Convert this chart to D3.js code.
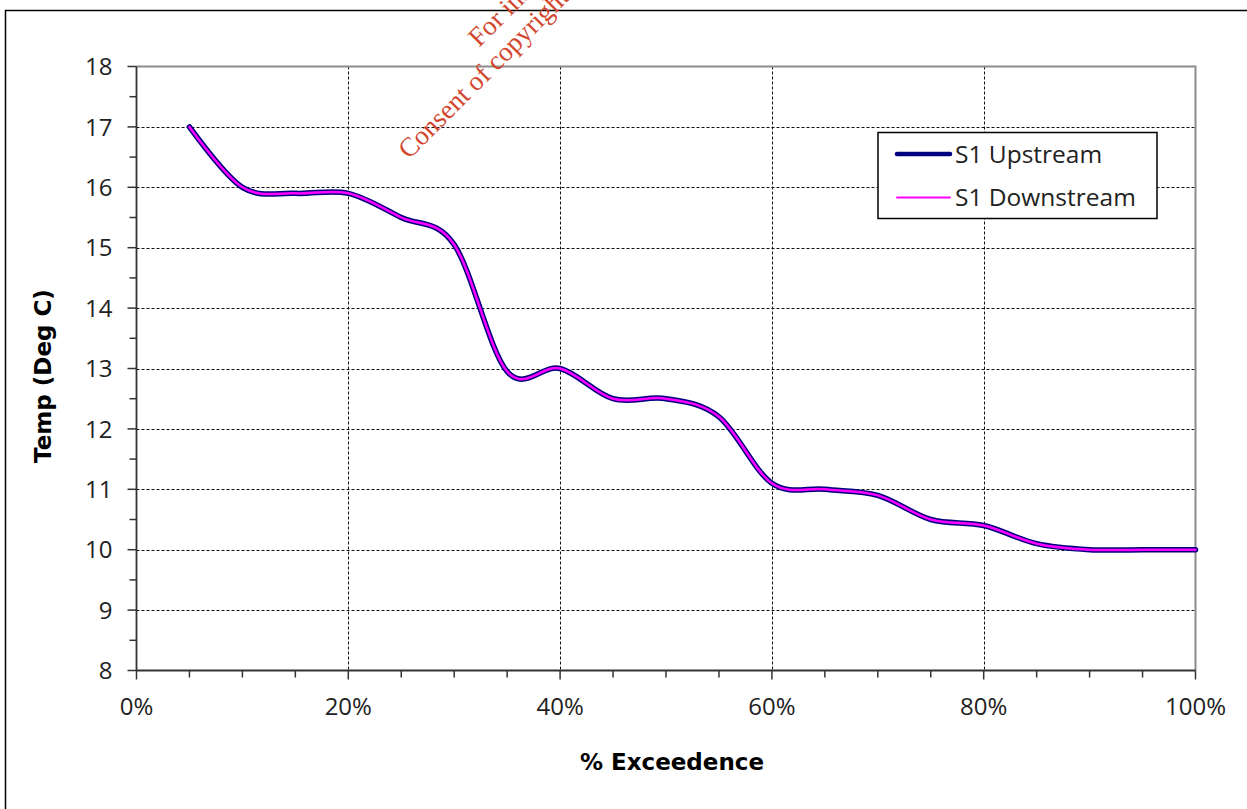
<!DOCTYPE html>
<html>
<head>
<meta charset="utf-8">
<script src="https://cdn.jsdelivr.net/npm/d3@7"></script>
<style>
  html, body { margin: 0; padding: 0; background: #fff; }
  svg { display: block; }
  .tick-label { font-family: "Open Sans", "DejaVu Sans", sans-serif; fill: #222; }
  .axis-title { font-family: "DejaVu Sans", "Open Sans", sans-serif; font-weight: bold; fill: #000; }
</style>
</head>
<body>
<svg id="chart" width="1247" height="809"></svg>
<script>
// Exceedence levels (fraction of time) and temperatures in deg C
const exceedence = [0.05, 0.10, 0.15, 0.20, 0.25, 0.30, 0.35, 0.40, 0.45, 0.50,
                    0.55, 0.60, 0.65, 0.70, 0.75, 0.80, 0.85, 0.90, 0.95, 1.00];
const upstream   = [17.0, 16.0, 15.9, 15.9, 15.5, 15.05, 12.95, 13.0, 12.5, 12.5,
                    12.2, 11.1, 11.0, 10.9, 10.5, 10.4, 10.1, 10.0, 10.0, 10.0];
const downstream = [17.0, 16.0, 15.9, 15.9, 15.5, 15.05, 12.95, 13.0, 12.5, 12.5,
                    12.2, 11.1, 11.0, 10.9, 10.5, 10.4, 10.1, 10.0, 10.0, 10.0];
const seriesNames = ["S1 Upstream", "S1 Downstream"];
const xTicks = [0, 0.2, 0.4, 0.6, 0.8, 1.0];
const yTicks = [8, 9, 10, 11, 12, 13, 14, 15, 16, 17, 18];

const svg = d3.select("#chart");

const plot = { left: 136.5, right: 1195.5, top: 66.5, bottom: 670.5 };
const x = d3.scaleLinear().domain([0, 1]).range([plot.left, plot.right]);
const y = d3.scaleLinear().domain([8, 18]).range([plot.bottom, plot.top]);

// Outer frame (top and left edges)
svg.append("path")
  .attr("d", "M5.5,809 L5.5,10.5 L1247,10.5")
  .attr("fill", "none").attr("stroke", "#000").attr("stroke-width", 1.5);

// Gridlines
const grid = svg.append("g").attr("stroke", "#111").attr("stroke-width", 1)
  .attr("stroke-dasharray", "3,2");
grid.selectAll("line.h").data(yTicks.filter(v => v > 8 && v < 18)).join("line")
  .attr("x1", plot.left).attr("x2", plot.right)
  .attr("y1", d => Math.round(y(d)) + 0.5).attr("y2", d => Math.round(y(d)) + 0.5);
grid.selectAll("line.v").data(xTicks.filter(v => v > 0 && v < 1)).join("line")
  .attr("y1", plot.top).attr("y2", plot.bottom)
  .attr("x1", d => Math.round(x(d)) + 0.5).attr("x2", d => Math.round(x(d)) + 0.5);

// Plot-area border (top and right)
svg.append("path")
  .attr("d", `M${plot.left},${plot.top} L${plot.right},${plot.top} L${plot.right},${plot.bottom}`)
  .attr("fill", "none").attr("stroke", "#8c8c8c").attr("stroke-width", 2);

// Y axis: major ticks every degree, minor every half degree
const gy = svg.append("g").attr("transform", `translate(${plot.left},0)`);
gy.append("line").attr("x1", 0).attr("x2", 0).attr("y1", plot.top).attr("y2", plot.bottom)
  .attr("stroke", "#333").attr("stroke-width", 1.8);
gy.selectAll("line.tk").data(d3.range(8, 18.01, 0.5)).join("line")
  .attr("class", "tk")
  .attr("x1", d => Number.isInteger(d) ? -9 : -7).attr("x2", 0)
  .attr("y1", d => y(d)).attr("y2", d => y(d))
  .attr("stroke", "#333").attr("stroke-width", 1.5);
gy.selectAll("text").data(yTicks).join("text")
  .attr("class", "tick-label")
  .attr("x", -24).attr("y", d => y(d)).attr("dy", "0.36em")
  .attr("text-anchor", "end").attr("font-size", 24)
  .text(d => d);

// X axis: labels every 20%, ticks every 5%
const gx = svg.append("g").attr("transform", `translate(0,${plot.bottom})`);
gx.append("line").attr("x1", plot.left).attr("x2", plot.right).attr("y1", 0).attr("y2", 0)
  .attr("stroke", "#333").attr("stroke-width", 1.8);
gx.selectAll("line.tk").data(d3.range(0, 1.0001, 0.05)).join("line")
  .attr("class", "tk")
  .attr("x1", d => x(d)).attr("x2", d => x(d))
  .attr("y1", 0).attr("y2", (d, i) => i % 4 === 0 ? 9 : 7)
  .attr("stroke", "#333").attr("stroke-width", 1.5);
const pct = d3.format(".0%");
gx.selectAll("text").data(xTicks).join("text")
  .attr("class", "tick-label")
  .attr("x", d => x(d)).attr("y", 44)
  .attr("text-anchor", "middle").attr("font-size", 24)
  .text(d => pct(d));

// Axis titles
svg.append("text").attr("class", "axis-title")
  .attr("transform", "translate(51,376) rotate(-90)")
  .attr("text-anchor", "middle").attr("font-size", 23)
  .text("Temp (Deg C)");
svg.append("text").attr("class", "axis-title")
  .attr("x", 672).attr("y", 770)
  .attr("text-anchor", "middle").attr("font-size", 23)
  .text("% Exceedence");

// Series lines (smoothed)
const line = d3.line()
  .x(d => x(d[0])).y(d => y(d[1]))
  .curve(d3.curveCardinal.tension(0));
const upData = exceedence.map((e, i) => [e, upstream[i]]);
const downData = exceedence.map((e, i) => [e, downstream[i]]);
svg.append("path").datum(upData).attr("d", line)
  .attr("fill", "none").attr("stroke", "#000080").attr("stroke-width", 5.5)
  .attr("stroke-linejoin", "round").attr("stroke-linecap", "round");
svg.append("path").datum(downData).attr("d", line)
  .attr("fill", "none").attr("stroke", "#ff00ff").attr("stroke-width", 2.5)
  .attr("stroke-linejoin", "round").attr("stroke-linecap", "round");

// Legend
const legend = svg.append("g");
legend.append("rect").attr("x", 878).attr("y", 132.5).attr("width", 279).attr("height", 86)
  .attr("fill", "#fff").attr("stroke", "#000").attr("stroke-width", 1.5);
const legendItems = [
  { name: seriesNames[0], color: "#000080", w: 4.5, y: 154 },
  { name: seriesNames[1], color: "#ff00ff", w: 2, y: 197.5 }
];
legend.selectAll("line").data(legendItems).join("line")
  .attr("x1", 897).attr("x2", 950).attr("y1", d => d.y).attr("y2", d => d.y)
  .attr("stroke", d => d.color).attr("stroke-width", d => d.w)
  .attr("stroke-linecap", "round");
legend.selectAll("text").data(legendItems).join("text")
  .attr("class", "tick-label")
  .attr("x", 955).attr("y", d => d.y).attr("dy", "0.36em")
  .attr("font-size", 24.5)
  .text(d => d.name);

// Document watermark
const wm = svg.append("g").attr("fill", "#d2462e")
  .attr("font-family", "'Liberation Serif', 'Times New Roman', serif").attr("font-size", 27);
wm.append("text").attr("transform", "translate(479,48) rotate(-45)")
  .text("For inspection purposes only.");
wm.append("text").attr("transform", "translate(409,160) rotate(-45)")
  .text("Consent of copyright owner required for any other use.");
</script>
</body>
</html>
